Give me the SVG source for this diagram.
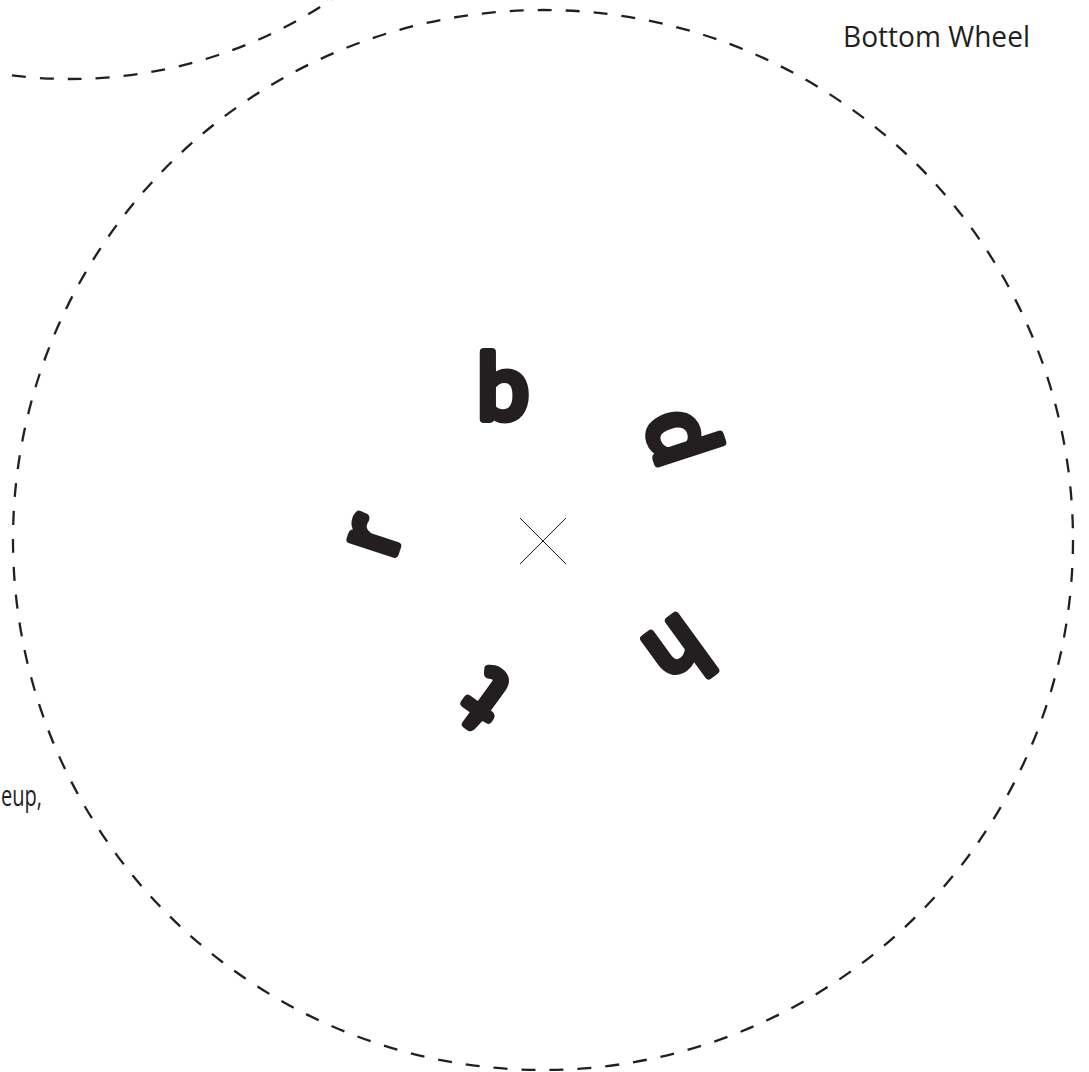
<svg xmlns="http://www.w3.org/2000/svg" width="1089" height="1072" viewBox="0 0 1089 1072">
  <style>
    .wheel { fill: none; stroke: #231f20; stroke-width: 2.3; stroke-dasharray: 14 14; }
    .glyph { font-family: Lato, "Open Sans", "DejaVu Sans", sans-serif; font-weight: 400; font-size: 92px; fill: #231f20; stroke: #231f20; stroke-width: 8; stroke-linejoin: round; stroke-linecap: round; text-anchor: middle; }
    .label { font-family: "Open Sans", "Liberation Sans", sans-serif; font-size: 29px; fill: #231f20; }
    .mark { stroke: #231f20; stroke-width: 1; }
  </style>
  <rect width="1089" height="1072" fill="#ffffff"/>
  <g id="wheels">
    <circle id="top-wheel" class="wheel" cx="70" cy="-392" r="471"/>
    <circle id="bottom-wheel" class="wheel" cx="543" cy="540" r="530"/>
  </g>
  <g id="center-mark">
    <line class="mark" x1="520" y1="518" x2="566" y2="564"/>
    <line class="mark" x1="566" y1="518" x2="520" y2="564"/>
  </g>
  <g id="letter-b"><text class="glyph" transform="translate(503,419) rotate(0)">b</text></g>
  <g id="letter-d"><text class="glyph" transform="translate(652,445) rotate(72)">d</text></g>
  <g id="letter-h"><text class="glyph" transform="translate(660,627) rotate(144)">h</text></g>
  <g id="letter-t"><text class="glyph" transform="translate(503,675) rotate(216)">t</text></g>
  <g id="letter-r"><text class="glyph" transform="translate(398,544) rotate(288)">r</text></g>
  <g id="labels">
    <text class="label" x="843" y="47" textLength="187" lengthAdjust="spacingAndGlyphs">Bottom Wheel</text>
    <text class="label" x="1" y="806" textLength="41" lengthAdjust="spacingAndGlyphs">eup,</text>
  </g>
</svg>
